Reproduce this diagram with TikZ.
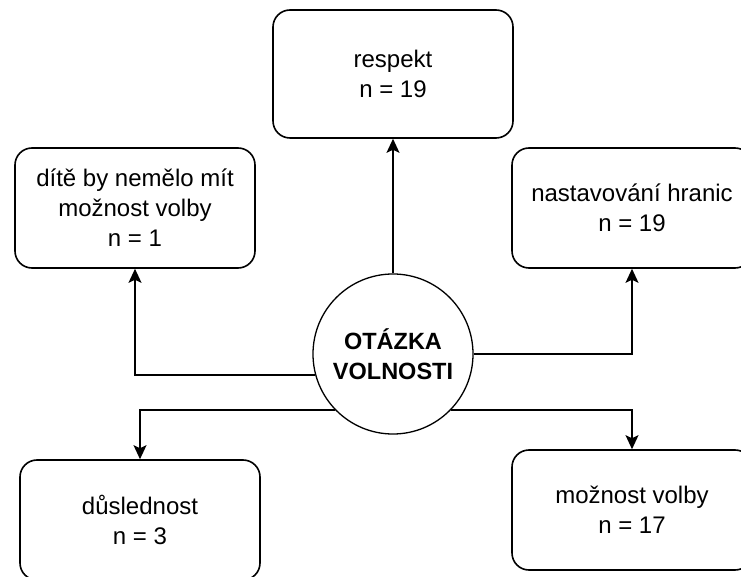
\documentclass[tikz,border=0pt]{standalone}
\usepackage{fontspec}
\setmainfont{Liberation Sans}
\usetikzlibrary{arrows.meta}
\tikzset{
	box/.style={draw, line width=1.6pt, rounded corners=17pt, minimum width=240pt, minimum height=120pt, align=center, font=\fontsize{24}{30}\selectfont},
	hub/.style={circle, draw, fill=white, line width=1.3pt, minimum size=160pt, align=center, font=\bfseries\fontsize{23.5}{30}\selectfont},
	arrow/.style={line width=1.4pt, -{Stealth[length=14pt, width=13pt, inset=3pt]}}
}
\begin{document}
\begin{tikzpicture}[x=1pt, y=1pt]
	\path[use as bounding box, clip] (0,0) rectangle (741,576);

	\node[box, minimum height=128pt] (respekt) at (393,502) {respekt\\n = 19};
	\node[box] (dite) at (135,368) {dítě by nemělo mít\\možnost volby\\n = 1};
	\node[box] (hranice) at (632,368) {nastavování hranic\\n = 19};
	\node[box] (dusl) at (140,56) {důslednost\\n = 3};
	\node[box] (volba) at (632,66) {možnost volby\\n = 17};
	\node[hub] (otazka) at (393,222) {OTÁZKA\\VOLNOSTI};

	\foreach \ang/\dest/\side in {90/respekt/south, 195/dite/south, 0/hranice/south, 224/dusl/north, 316/volba/north}
		\draw[arrow] (otazka.\ang) -| (\dest.\side);
\end{tikzpicture}
\end{document}
